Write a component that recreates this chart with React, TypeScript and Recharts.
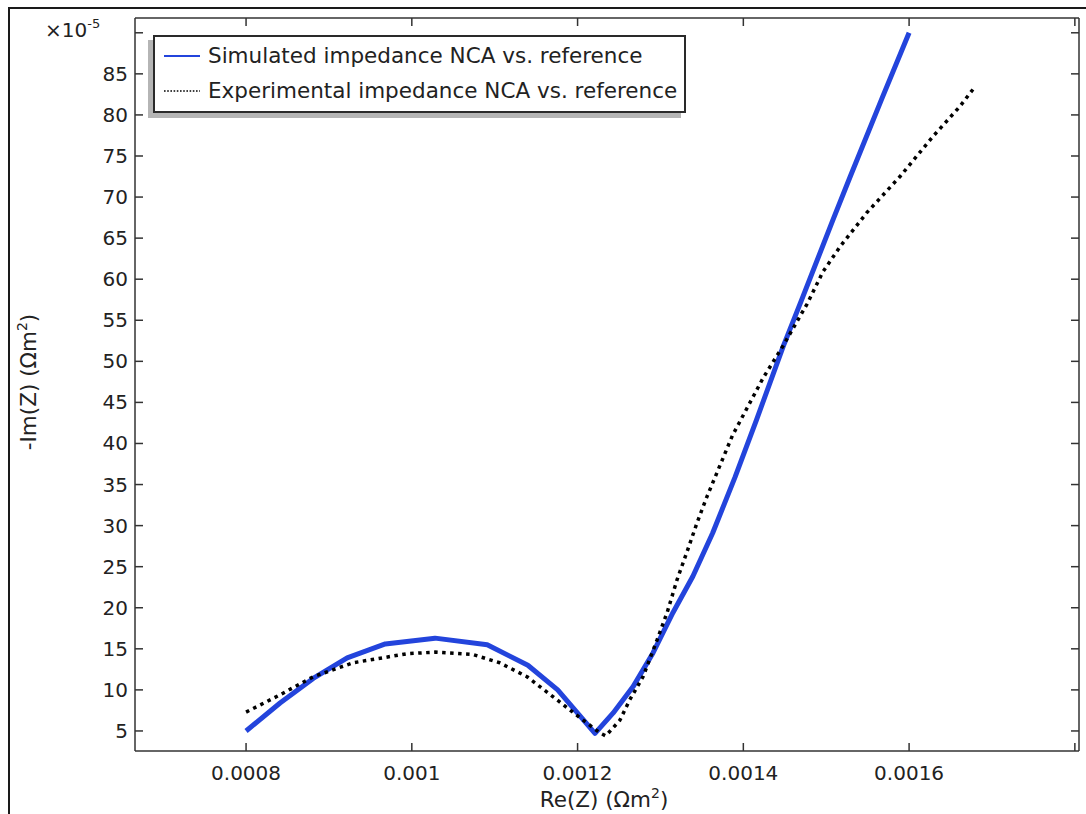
import React from 'react';
import { LineChart, Line, XAxis, YAxis } from 'recharts';

const FONT = '"DejaVu Sans", "Liberation Sans", sans-serif';
const TEXT = '#222';
const AXIS = '#333';

// Simulated impedance (Re in Ωm², -Im in 1e-5 Ωm²)
const SIM_RE = [0.0008, 0.000841, 0.000881, 0.000922, 0.000968, 0.001028, 0.001091, 0.00114, 0.001176, 0.001221, 0.001243, 0.001267, 0.001291, 0.001315, 0.001339, 0.001363, 0.00139, 0.001416, 0.001448, 0.001472, 0.001508, 0.001529, 0.001568, 0.0016];
const SIM_IM = [5.0, 8.4, 11.4, 13.9, 15.6, 16.3, 15.5, 13.0, 10.0, 4.7, 7.2, 10.4, 14.5, 19.4, 23.8, 29.1, 35.9, 42.9, 51.8, 57.9, 67.2, 72.5, 82.2, 90.0];

// Experimental impedance
const EXP_RE = [0.0008, 0.000841, 0.000881, 0.000929, 0.000994, 0.001028, 0.001074, 0.001106, 0.001139, 0.001175, 0.001203, 0.001227, 0.001234, 0.001251, 0.001263, 0.001279, 0.001296, 0.001308, 0.00132, 0.001332, 0.001344, 0.001356, 0.001387, 0.001424, 0.001448, 0.001477, 0.001496, 0.001517, 0.001549, 0.001589, 0.001629, 0.001661, 0.001677];
const EXP_IM = [7.3, 9.4, 11.6, 13.3, 14.4, 14.6, 14.3, 13.3, 11.6, 8.8, 6.6, 4.75, 4.4, 6.3, 8.8, 11.6, 16.1, 19.4, 23.4, 26.8, 30.3, 33.5, 41.0, 48.0, 51.9, 57.0, 60.9, 64.0, 68.1, 72.5, 77.4, 81.0, 83.1];

const X_TICKS = [0.0008, 0.001, 0.0012, 0.0014, 0.0016, 0.0018];
const X_TICK_LABELS = ['0.0008', '0.001', '0.0012', '0.0014', '0.0016', ''];
const Y_TICKS = [5, 10, 15, 20, 25, 30, 35, 40, 45, 50, 55, 60, 65, 70, 75, 80, 85, 90];
const Y_TICK_LABELS = ['5', '10', '15', '20', '25', '30', '35', '40', '45', '50', '55', '60', '65', '70', '75', '80', '85', ''];

const X_DOMAIN = [0.000666, 0.001805];
const Y_DOMAIN = [2.56, 91.8];

const SERIES = [
  { name: 'Simulated impedance NCA vs. reference', color: '#2344dc', width: 5, dash: undefined as string | undefined, legendWidth: 2, legendDash: undefined as string | undefined },
  { name: 'Experimental impedance NCA vs. reference', color: '#000000', width: 3.5, dash: '3.5 4.5', legendWidth: 1.6, legendDash: '1.6 1.6' },
];

const simData = SIM_RE.map((x, i) => ({ x, y: SIM_IM[i] }));
const expData = EXP_RE.map((x, i) => ({ x, y: EXP_IM[i] }));
const DATASETS = [simData, expData];

const TICK_LEN = 8;
const FS = 20;
const FS_BIG = 21.5;

const findLabel = (ticks: number[], labels: string[], v: number) => {
  const i = ticks.findIndex((t) => Math.abs(t - v) < 1e-9);
  return i >= 0 ? labels[i] : '';
};

const BottomTick = (p: any) => (
  <g>
    <line x1={p.x} y1={p.y} x2={p.x} y2={p.y - TICK_LEN} stroke={AXIS} strokeWidth={1.5} />
    <text x={p.x} y={p.y + 29} textAnchor="middle" fontFamily={FONT} fontSize={FS} fill={TEXT}>
      {findLabel(X_TICKS, X_TICK_LABELS, p.payload.value)}
    </text>
  </g>
);

const TopTick = (p: any) => (
  <line x1={p.x} y1={p.y} x2={p.x} y2={p.y + TICK_LEN} stroke={AXIS} strokeWidth={1.5} />
);

const LeftTick = (p: any) => (
  <g>
    <line x1={p.x} y1={p.y} x2={p.x + TICK_LEN} y2={p.y} stroke={AXIS} strokeWidth={1.5} />
    <text x={p.x - 7} y={p.y + 7} textAnchor="end" fontFamily={FONT} fontSize={FS} fill={TEXT}>
      {findLabel(Y_TICKS, Y_TICK_LABELS, p.payload.value)}
    </text>
  </g>
);

const RightTick = (p: any) => (
  <line x1={p.x} y1={p.y} x2={p.x - TICK_LEN} y2={p.y} stroke={AXIS} strokeWidth={1.5} />
);

const sup: React.CSSProperties = { fontSize: 14, position: 'relative', top: -9 };

export default function App() {
  return (
    <div style={{ position: 'relative', width: 1086, height: 814, overflow: 'hidden', background: '#fff', fontFamily: FONT, color: TEXT }}>
      <style>{'body{margin:0;overflow:hidden;}'}</style>
      <div style={{ position: 'absolute', left: 8, top: 7, width: 1100, height: 820, borderLeft: '2px solid #1a1a1a', borderTop: '2px solid #1a1a1a' }} />
      <div style={{ position: 'absolute', left: 0, top: 0 }}>
        <LineChart width={1086} height={814} margin={{ top: 0, right: 0, bottom: 0, left: 0 }}>
          <XAxis xAxisId="b" type="number" dataKey="x" orientation="bottom" domain={X_DOMAIN} allowDataOverflow ticks={X_TICKS} interval={0}
            height={63} tickSize={0} tickMargin={0} tickLine={false} axisLine={{ stroke: AXIS, strokeWidth: 1.5 }} tick={BottomTick} />
          <XAxis xAxisId="t" type="number" dataKey="x" orientation="top" domain={X_DOMAIN} allowDataOverflow ticks={X_TICKS} interval={0}
            height={18} tickSize={0} tickMargin={0} tickLine={false} axisLine={{ stroke: AXIS, strokeWidth: 1.5 }} tick={TopTick} />
          <YAxis yAxisId="l" type="number" orientation="left" domain={Y_DOMAIN} allowDataOverflow ticks={Y_TICKS} interval={0}
            width={135} tickSize={0} tickMargin={0} tickLine={false} axisLine={{ stroke: AXIS, strokeWidth: 1.5 }} tick={LeftTick} />
          <YAxis yAxisId="r" type="number" orientation="right" domain={Y_DOMAIN} allowDataOverflow ticks={Y_TICKS} interval={0}
            width={7} tickSize={0} tickMargin={0} tickLine={false} axisLine={{ stroke: AXIS, strokeWidth: 1.5 }} tick={RightTick} />
          {SERIES.map((s, i) => (
            <Line key={s.name} xAxisId="b" yAxisId="l" data={DATASETS[i]} dataKey="y" name={s.name} type="linear"
              stroke={s.color} strokeWidth={s.width} strokeDasharray={s.dash} dot={false} activeDot={false}
              isAnimationActive={false} strokeLinejoin="round" />
          ))}
        </LineChart>
      </div>

      {/* legend */}
      <div style={{ position: 'absolute', left: 153, top: 35, width: 529, height: 74, border: '2px solid #2a2a2a', background: '#fff', boxShadow: '-5px 5px 0 #b5b5b5' }}>
        {SERIES.map((s, i) => (
          <div key={s.name} style={{ position: 'absolute', left: 8, top: 4 + i * 35, height: 30, display: 'flex', alignItems: 'center', whiteSpace: 'nowrap' }}>
            <svg width={38} height={10} style={{ marginRight: 7 }}>
              <line x1={1} y1={5} x2={37} y2={5} stroke={s.color} strokeWidth={s.legendWidth} strokeDasharray={s.legendDash} />
            </svg>
            <span style={{ fontSize: FS_BIG, lineHeight: '30px' }}>{s.name}</span>
          </div>
        ))}
      </div>

      {/* exponent */}
      <div style={{ position: 'absolute', left: 45, top: 18, fontSize: FS, lineHeight: '24px', whiteSpace: 'nowrap' }}>
        ×10<span style={{ fontSize: 13, position: 'relative', top: -9 }}>-5</span>
      </div>

      {/* x title */}
      <div style={{ position: 'absolute', left: 604, top: 787, transform: 'translateX(-50%)', fontSize: FS_BIG, lineHeight: '26px', whiteSpace: 'nowrap' }}>
        Re(Z) (Ωm<span style={sup}>2</span>)
      </div>

      {/* y title */}
      <div style={{ position: 'absolute', left: 30, top: 382, transform: 'translate(-50%, -50%) rotate(-90deg)', fontSize: FS_BIG, lineHeight: '26px', whiteSpace: 'nowrap' }}>
        -Im(Z) (Ωm<span style={sup}>2</span>)
      </div>
    </div>
  );
}
